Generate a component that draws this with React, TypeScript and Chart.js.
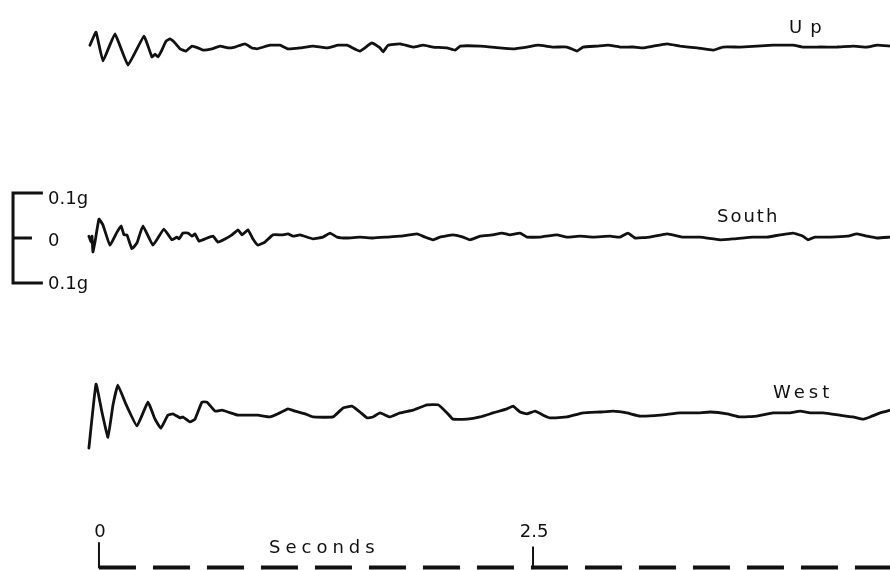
import React, { useEffect, useRef } from "react";
import { Chart, registerables } from "chart.js";

Chart.register(...registerables);

// ---- Data (time in seconds, acceleration in g) ----
const UP_T = [-0.052, -0.017, 0.023, 0.092, 0.167, 0.259, 0.305, 0.323, 0.34, 0.357, 0.386, 0.409, 0.438, 0.467, 0.501, 0.536, 0.57, 0.599, 0.651, 0.697, 0.743, 0.783, 0.841, 0.881, 0.91, 0.985, 1.043, 1.089, 1.158, 1.233, 1.313, 1.377, 1.429, 1.503, 1.572, 1.619, 1.636, 1.665, 1.734, 1.809, 1.866, 1.924, 2.005, 2.051, 2.08, 2.195, 2.31, 2.385, 2.465, 2.529, 2.615, 2.696, 2.753, 2.788, 2.869, 2.932, 3.001, 3.076, 3.134, 3.191, 3.272, 3.347, 3.445, 3.537, 3.594, 3.692, 3.79, 3.882, 3.998, 4.055, 4.153, 4.251, 4.343, 4.424, 4.482, 4.557];
const UP_G = [0.004, 0.033, -0.031, 0.029, -0.04, 0.024, -0.022, -0.016, -0.022, -0.011, 0.013, 0.018, 0.009, -0.004, -0.009, 0.002, -0.002, -0.007, -0.004, 0.002, -0.002, 0, 0.007, -0.002, -0.004, 0.004, 0.004, -0.004, -0.002, 0.002, -0.002, 0.004, 0.004, -0.009, 0.009, -0.002, -0.011, 0.004, 0.007, 0, 0.004, 0, -0.002, -0.007, 0.002, 0.002, -0.002, -0.004, 0, 0.004, 0, 0, -0.009, 0, 0.002, 0.004, 0, 0, -0.002, 0.002, 0.007, 0.002, -0.002, -0.007, 0, 0, 0.002, 0.004, 0.004, 0, 0, 0, 0.002, 0, 0.004, 0.002];

const SOUTH_T = [-0.058, -0.046, -0.04, -0.035, -0.023, 0, 0.023, 0.063, 0.104, 0.127, 0.144, 0.161, 0.19, 0.219, 0.253, 0.311, 0.374, 0.42, 0.449, 0.461, 0.484, 0.513, 0.536, 0.553, 0.576, 0.611, 0.657, 0.685, 0.726, 0.766, 0.801, 0.824, 0.858, 0.887, 0.916, 0.956, 1.002, 1.054, 1.089, 1.118, 1.158, 1.233, 1.29, 1.331, 1.371, 1.429, 1.503, 1.578, 1.659, 1.734, 1.832, 1.878, 1.924, 1.964, 2.039, 2.097, 2.137, 2.195, 2.264, 2.321, 2.367, 2.425, 2.465, 2.54, 2.638, 2.696, 2.771, 2.846, 2.943, 3.001, 3.047, 3.088, 3.174, 3.272, 3.364, 3.462, 3.577, 3.652, 3.767, 3.848, 3.923, 3.998, 4.055, 4.084, 4.124, 4.211, 4.309, 4.366, 4.424, 4.482, 4.557];
const SOUTH_G = [0.004, -0.009, 0.004, -0.031, -0.009, 0.042, 0.029, -0.016, 0.013, 0.027, 0.007, 0.007, -0.024, -0.011, 0.027, -0.016, 0.02, -0.004, 0.002, -0.002, 0.011, 0.011, 0.004, 0.009, -0.007, -0.002, 0.004, -0.009, -0.002, 0.007, 0.018, 0.007, 0.018, -0.002, -0.016, -0.009, 0.007, 0.007, 0.009, 0.004, 0.007, -0.002, 0.002, 0.011, 0.002, 0, 0.002, 0, 0.002, 0.004, 0.009, 0.002, -0.004, 0.002, 0.007, 0.002, -0.004, 0.004, 0.007, 0.011, 0.007, 0.011, 0.002, 0.002, 0.007, 0.002, 0.004, 0.002, 0.004, 0.002, 0.011, 0, 0.002, 0.009, 0.002, 0.002, -0.004, -0.002, 0.002, 0.002, 0.007, 0.011, 0.004, -0.004, 0.002, 0.002, 0.004, 0.009, 0.004, 0, 0.002];

const WEST_T = [-0.058, -0.017, 0.017, 0.052, 0.081, 0.109, 0.15, 0.219, 0.282, 0.323, 0.357, 0.397, 0.426, 0.467, 0.484, 0.524, 0.553, 0.593, 0.622, 0.668, 0.709, 0.743, 0.801, 0.858, 0.916, 0.985, 1.031, 1.089, 1.129, 1.187, 1.233, 1.348, 1.406, 1.457, 1.503, 1.544, 1.578, 1.619, 1.676, 1.734, 1.809, 1.889, 1.953, 2.005, 2.039, 2.12, 2.195, 2.27, 2.35, 2.385, 2.425, 2.465, 2.512, 2.558, 2.598, 2.696, 2.788, 2.886, 2.961, 3.041, 3.116, 3.232, 3.347, 3.445, 3.52, 3.618, 3.692, 3.79, 3.882, 3.98, 4.038, 4.096, 4.171, 4.268, 4.343, 4.401, 4.441, 4.499, 4.557];
const WEST_G = [-0.08, 0.062, 0, -0.056, 0.016, 0.06, 0.022, -0.031, 0.022, -0.016, -0.036, -0.007, -0.004, -0.013, -0.011, -0.022, -0.016, 0.022, 0.022, 0.002, 0.004, 0, -0.007, -0.007, -0.007, -0.011, -0.004, 0.007, 0.002, -0.004, -0.011, -0.011, 0.009, 0.013, 0, -0.013, -0.011, -0.002, -0.011, -0.002, 0.004, 0.016, 0.016, -0.002, -0.016, -0.016, -0.011, -0.002, 0.007, 0.013, 0, -0.004, 0.002, -0.007, -0.013, -0.011, -0.002, 0, 0.002, -0.002, -0.009, -0.007, -0.002, -0.002, 0, -0.004, -0.011, -0.009, -0.002, -0.002, 0.002, -0.002, -0.002, -0.007, -0.011, -0.016, -0.011, -0.002, 0.004];

const TRACE_LABELS = ["Up", "South", "West"];
const TIME_TICKS = [0, 2.5];
const TIME_TICK_LABELS = ["0", "2.5"];
const TIME_TITLE = "Seconds";
const SCALE_VALUES = [0.1, 0, -0.1];
const SCALE_LABELS = ["0.1g", "0", "0.1g"];
const TIME_BAR_END = 4.7;

// ---- Layout (view window and offsets) ----
const X_MIN = -0.57;
const X_MAX = 4.556;
const Y_MAX = 0.5289;
const Y_MIN = -0.7378;
const UP_OFFSET = 0.4244;
const SOUTH_OFFSET = 0;
const WEST_OFFSET = -0.3867;
const AXIS_Y = -0.732;
const TICK_TOP = [-0.678, -0.687];
const BAR_X = -0.495;
const BAR_ARM = -0.323;
const BAR_MID_ARM = -0.386;

const INK = "#111";
const FONT = '"DejaVu Sans", sans-serif';

function toPoints(ts: number[], gs: number[], off: number) {
  return ts.map((t, i) => ({ x: t, y: gs[i] + off }));
}

const labelsPlugin = {
  id: "labels",
  afterDatasetsDraw(chart: any) {
    const ctx = chart.ctx;
    const xs = chart.scales.x;
    const ys = chart.scales.y;
    ctx.save();
    ctx.fillStyle = INK;
    ctx.textBaseline = "alphabetic";
    ctx.font = `18px ${FONT}`;
    ctx.textAlign = "left";
    // trace labels
    ctx.letterSpacing = "8px";
    ctx.fillText(TRACE_LABELS[0], 789, 33);
    ctx.letterSpacing = "2px";
    ctx.fillText(TRACE_LABELS[1], 717, 222);
    ctx.letterSpacing = "4px";
    ctx.fillText(TRACE_LABELS[2], 773, 398);
    // time title
    ctx.letterSpacing = "5px";
    ctx.fillText(TIME_TITLE, 269, 553);
    // time tick labels
    ctx.letterSpacing = "0px";
    ctx.textAlign = "center";
    TIME_TICKS.forEach((t, i) => {
      ctx.fillText(TIME_TICK_LABELS[i], xs.getPixelForValue(t) + 1, 537);
    });
    // scale bar labels
    ctx.textAlign = "left";
    const baseAdj = [11, 8, 6];
    SCALE_VALUES.forEach((v, i) => {
      ctx.fillText(SCALE_LABELS[i], 48, ys.getPixelForValue(v) + baseAdj[i]);
    });
    ctx.restore();
  },
};

export default function App() {
  const ref = useRef<HTMLCanvasElement | null>(null);
  useEffect(() => {
    if (!ref.current) return;
    const line = (data: any[], extra: any = {}) => ({
      data,
      borderColor: INK,
      borderWidth: 2.8,
      pointRadius: 0,
      tension: 0.1,
      fill: false,
      borderJoinStyle: "round",
      borderCapStyle: "round",
      ...extra,
    });
    const chart = new Chart(ref.current, {
      type: "line",
      data: {
        datasets: [
          line(toPoints(UP_T, UP_G, UP_OFFSET)),
          line(toPoints(SOUTH_T, SOUTH_G, SOUTH_OFFSET)),
          line(toPoints(WEST_T, WEST_G, WEST_OFFSET)),
          // time bar
          line(
            [
              { x: TIME_TICKS[0], y: AXIS_Y },
              { x: TIME_BAR_END, y: AXIS_Y },
            ],
            { borderWidth: 4, borderDash: [37, 17], borderCapStyle: "butt", tension: 0 }
          ),
          line(
            [
              { x: TIME_TICKS[0], y: TICK_TOP[0] },
              { x: TIME_TICKS[0], y: AXIS_Y },
            ],
            { borderWidth: 2, tension: 0 }
          ),
          line(
            [
              { x: TIME_TICKS[1], y: TICK_TOP[1] },
              { x: TIME_TICKS[1], y: AXIS_Y },
            ],
            { borderWidth: 2, tension: 0 }
          ),
          // scale bracket
          line(
            [
              { x: BAR_ARM, y: SCALE_VALUES[0] },
              { x: BAR_X, y: SCALE_VALUES[0] },
              { x: BAR_X, y: SCALE_VALUES[2] },
              { x: BAR_ARM, y: SCALE_VALUES[2] },
            ],
            { borderWidth: 3, borderJoinStyle: "miter", borderCapStyle: "butt", tension: 0 }
          ),
          line(
            [
              { x: BAR_X, y: SCALE_VALUES[1] },
              { x: BAR_MID_ARM, y: SCALE_VALUES[1] },
            ],
            { borderWidth: 3, borderCapStyle: "butt", tension: 0 }
          ),
        ],
      },
      options: {
        animation: false,
        responsive: false,
        devicePixelRatio: 1,
        layout: { padding: 0 },
        plugins: { legend: { display: false }, tooltip: { enabled: false } },
        scales: {
          x: { type: "linear", min: X_MIN, max: X_MAX, display: false },
          y: { type: "linear", min: Y_MIN, max: Y_MAX, display: false },
        },
      },
      plugins: [labelsPlugin],
    });
    return () => chart.destroy();
  }, []);
  return (
    <div style={{ position: "absolute", left: 0, top: 0, width: 890, height: 570, background: "#fff" }}>
      <canvas ref={ref} width={890} height={570} />
    </div>
  );
}
